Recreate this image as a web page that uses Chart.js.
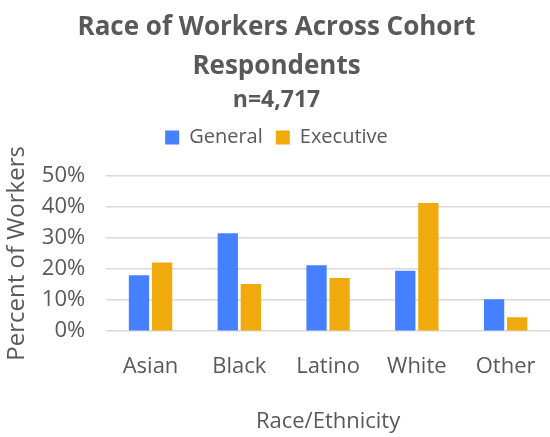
<!DOCTYPE html>
<html lang="en">
<head>
  <meta charset="UTF-8" />
  <title>Race of Workers Across Cohort Respondents</title>
  <script src="https://cdn.jsdelivr.net/npm/chart.js"></script>
  <style>
    html, body {
      margin: 0;
      padding: 0;
      background: #fff;
    }
    #wrap {
      width: 550px;
      height: 437px;
    }
  </style>
</head>
<body>
  <div id="wrap"><canvas id="raceChart"></canvas></div>

  <script>
    // values (percent of workers)
    const categories = ['Asian', 'Black', 'Latino', 'White', 'Other'];
    const generalPct = [18.0, 31.5, 21.2, 19.4, 10.3];
    const executivePct = [22.1, 15.2, 17.1, 41.2, 4.5];
    const yTicks = [0, 10, 20, 30, 40, 50];

    const textGray = '#595959';
    const fontFam = '"Open Sans", "Noto Sans", sans-serif';

    // extra space between legend and plot area
    const legendGap = {
      id: 'legendGap',
      beforeInit(chart) {
        const origFit = chart.legend.fit;
        chart.legend.fit = function () {
          origFit.bind(chart.legend)();
          this.height += 18;
        };
      }
    };

    const ctx = document.getElementById('raceChart').getContext('2d');

    new Chart(ctx, {
      type: 'bar',
      data: {
        labels: categories,
        datasets: [{
          label: 'General',
          data: generalPct,
          backgroundColor: '#4480FF',
          categoryPercentage: 0.52,
          barPercentage: 0.88
        }, {
          label: 'Executive',
          data: executivePct,
          backgroundColor: '#F0AA0D',
          categoryPercentage: 0.52,
          barPercentage: 0.88
        }]
      },
      options: {
        responsive: true,
        maintainAspectRatio: false,
        animation: false,
        layout: {
          padding: { left: 3, right: 0, top: 8, bottom: 2 }
        },
        plugins: {
          title: {
            display: true,
            text: ['Race of Workers Across Cohort', 'Respondents'],
            color: textGray,
            font: { family: fontFam, size: 26, weight: 'bold', lineHeight: 1.5 },
            padding: { top: 0, bottom: 0 }
          },
          subtitle: {
            display: true,
            text: 'n=4,717',
            color: textGray,
            font: { family: fontFam, size: 23, weight: 'bold' },
            padding: { top: 1, bottom: 0 }
          },
          legend: {
            display: true,
            position: 'top',
            labels: {
              color: textGray,
              font: { family: fontFam, size: 20 },
              boxWidth: 14,
              boxHeight: 14,
              padding: 13
            }
          },
          tooltip: { enabled: false }
        },
        scales: {
          x: {
            grid: { display: false },
            border: { display: false },
            ticks: {
              color: textGray,
              font: { family: fontFam, size: 22 },
              padding: 14
            },
            title: {
              display: true,
              text: 'Race/Ethnicity',
              color: textGray,
              font: { family: fontFam, size: 22 },
              padding: { top: 15, bottom: 0 }
            }
          },
          y: {
            min: 0,
            max: 50,
            afterBuildTicks: axis => {
              axis.ticks = yTicks.map(v => ({ value: v }));
            },
            grid: {
              color: '#d9d9d9',
              lineWidth: 1.5,
              drawTicks: true,
              tickLength: 11,
              tickColor: 'rgba(0,0,0,0)'
            },
            border: { display: false },
            ticks: {
              color: textGray,
              font: { family: fontFam, size: 22 },
              padding: 10,
              autoSkip: false,
              callback: v => v + '%'
            },
            title: {
              display: true,
              text: 'Percent of Workers',
              color: textGray,
              font: { family: fontFam, size: 24 },
              padding: { top: 0, bottom: 0 }
            }
          }
        }
      },
      plugins: [legendGap]
    });
  </script>
</body>
</html>
